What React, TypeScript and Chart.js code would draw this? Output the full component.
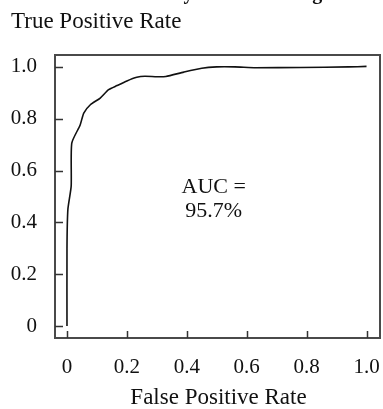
import React, { useEffect, useRef } from "react";
import { Chart, registerables } from "chart.js";

Chart.register(...registerables);

const chartTitle = "Model Accuracy on Test Ratings";
const yAxisTitle = "True Positive Rate";
const xAxisTitle = "False Positive Rate";
const aucLines = ["AUC =", "95.7%"];
const aucPosition = [0.49, 0.49];

const fprValues = [0, 0, 0.003, 0.014, 0.016, 0.044, 0.056, 0.078, 0.111, 0.139, 0.167, 0.2, 0.233, 0.26, 0.3, 0.33, 0.39, 0.45, 0.5, 0.56, 0.63, 0.78, 0.94, 1.0];
const tprValues = [0, 0.3, 0.45, 0.54, 0.706, 0.776, 0.822, 0.854, 0.88, 0.912, 0.928, 0.946, 0.96, 0.964, 0.962, 0.963, 0.98, 0.995, 1.0, 1.0, 0.997, 0.998, 1.0, 1.002];

const xTickValues = [0, 0.2, 0.4, 0.6, 0.8, 1.0];
const yTickValues = [0, 0.2, 0.4, 0.6, 0.8, 1.0];

const SERIF = "'Liberation Serif', 'Times New Roman', serif";

const fmt = (v: number) => (v === 0 ? "0" : v.toFixed(1));

const decorPlugin = {
  id: "decor",
  afterDraw(chart: any) {
    const { ctx, chartArea } = chart;
    const xs = chart.scales.x;
    const ys = chart.scales.y;
    ctx.save();
    // frame
    ctx.strokeStyle = "#4a4a4a";
    ctx.lineWidth = 2;
    ctx.strokeRect(chartArea.left, chartArea.top, chartArea.right - chartArea.left, chartArea.bottom - chartArea.top);
    // inward ticks
    ctx.lineWidth = 1.5;
    ctx.strokeStyle = "#333";
    ctx.beginPath();
    xTickValues.forEach((v) => {
      const px = Math.round(xs.getPixelForValue(v)) + 0.5;
      ctx.moveTo(px, chartArea.bottom);
      ctx.lineTo(px, chartArea.bottom - 7);
    });
    yTickValues.forEach((v) => {
      const py = Math.round(ys.getPixelForValue(v)) + 0.5;
      ctx.moveTo(chartArea.left, py);
      ctx.lineTo(chartArea.left + 8, py);
    });
    ctx.stroke();
    // texts
    ctx.fillStyle = "#111";
    ctx.textBaseline = "alphabetic";
    ctx.font = `bold 20px ${SERIF}`;
    ctx.textAlign = "center";
    ctx.fillText(chartTitle, chart.width / 2, -1.5);
    ctx.font = `23px ${SERIF}`;
    ctx.textAlign = "left";
    ctx.fillText(yAxisTitle, 11, 28);
    ctx.textAlign = "center";
    ctx.fillText(xAxisTitle, (chartArea.left + chartArea.right) / 2 + 1, 404);
    ctx.font = `22px ${SERIF}`;
    ctx.textBaseline = "middle";
    const cx = xs.getPixelForValue(aucPosition[0]);
    const cy = ys.getPixelForValue(aucPosition[1]);
    ctx.fillText(aucLines[0], cx, cy - 12);
    ctx.fillText(aucLines[1], cx, cy + 12);
    ctx.restore();
  },
};

export default function App() {
  const ref = useRef<HTMLCanvasElement>(null);
  useEffect(() => {
    if (!ref.current) return;
    const data = fprValues.map((x, i) => ({ x, y: tprValues[i] }));
    const chart = new Chart(ref.current, {
      type: "line",
      data: {
        datasets: [
          {
            data,
            borderColor: "#111",
            borderWidth: 1.6,
            pointRadius: 0,
            tension: 0.2,
            fill: false,
          },
        ],
      },
      options: {
        animation: false,
        responsive: false,
        devicePixelRatio: 1,
        layout: { padding: { top: 55, right: 3, left: 0, bottom: 0 } },
        plugins: { legend: { display: false }, tooltip: { enabled: false }, title: { display: false } },
        scales: {
          x: {
            type: "linear",
            min: -0.04,
            max: 1.045,
            grid: { display: false, drawTicks: false },
            border: { display: false },
            afterBuildTicks: (s: any) => {
              s.ticks = xTickValues.map((v) => ({ value: v }));
            },
            afterFit: (s: any) => {
              s.height = 71;
              s.paddingLeft = 0;
              s.paddingRight = 0;
            },
            ticks: {
              padding: 17,
              maxRotation: 0,
              autoSkip: false,
              color: "#111",
              font: { family: SERIF, size: 21 },
              callback: (v: any) => fmt(Number(v)),
            },
          },
          y: {
            type: "linear",
            min: -0.046,
            max: 1.046,
            grid: { display: false, drawTicks: false },
            border: { display: false },
            afterBuildTicks: (s: any) => {
              s.ticks = yTickValues.map((v) => ({ value: v }));
            },
            afterFit: (s: any) => {
              s.width = 55;
              s.paddingTop = 0;
              s.paddingBottom = 0;
            },
            ticks: {
              padding: 18,
              autoSkip: false,
              color: "#111",
              font: { family: SERIF, size: 21 },
              callback: (v: any) => fmt(Number(v)),
            },
          },
        },
      },
      plugins: [decorPlugin],
    });
    return () => chart.destroy();
  }, []);
  return (
    <div style={{ position: "fixed", left: 0, top: 0, width: 383, height: 409, overflow: "hidden", background: "#fff" }}>
      <canvas ref={ref} width={383} height={409} style={{ display: "block", width: 383, height: 409 }} />
    </div>
  );
}
